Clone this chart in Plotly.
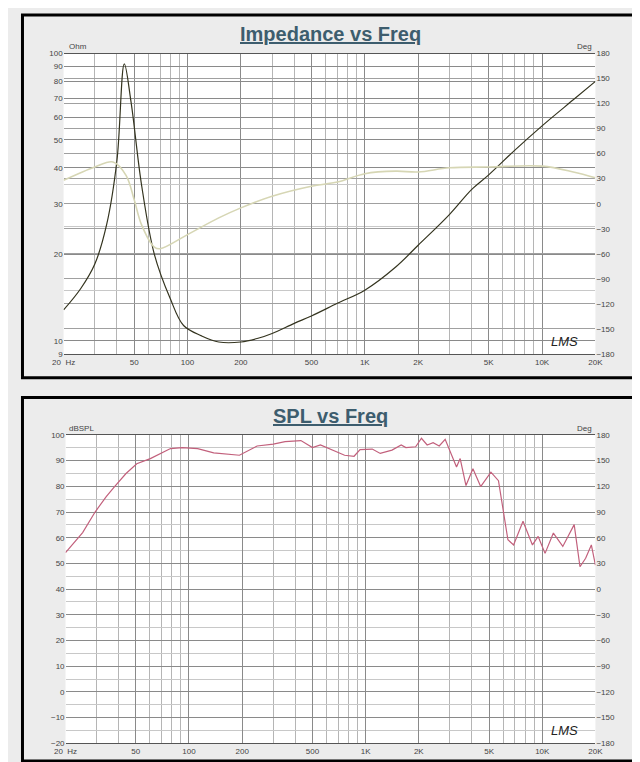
import plotly.graph_objects as go

# impedance (ohm) and phase (deg) vs frequency
imp_freq = [20, 25, 30, 35, 40, 44, 48, 55, 65, 80, 95, 120, 150, 200, 250, 300, 400, 500, 700,
            1000, 1500, 2000, 3000, 4000, 5000, 7000, 10000, 15000, 20000]
imp_ohm = [12.8, 15.2, 18.5, 25.4, 42.5, 92, 68, 35, 20, 14, 11.3, 10.4, 9.9, 9.9, 10.2, 10.6, 11.5,
           12.2, 13.5, 15, 18.1, 21.5, 27.5, 33.6, 37.8, 46, 56, 69, 80]
ph_freq = [20, 30, 38, 45, 50, 55, 65, 70, 100, 150, 200, 300, 500, 700, 1000, 1500, 2000, 3000,
           5000, 10000, 15000, 20000]
ph_deg = [28, 44, 50, 34, 5, -25, -52, -54, -37, -17, -5, 9, 21, 26, 36, 39, 38, 43, 44, 45, 38, 31]

# SPL vs frequency
spl_freq = [20, 25, 29.4, 34, 38, 44, 50.6, 60.4, 78.6, 91.5, 112, 138, 193, 243, 300, 350, 430, 500,
            555, 760, 860, 930, 1090, 1210, 1410, 1590, 1690, 1920, 2070, 2230, 2410, 2610, 2820,
            3030, 3270, 3430, 3700, 4050, 4480, 5120, 5650, 6390, 6880, 7780, 8800, 9480, 10370,
            11560, 13070, 15160, 16350, 17600, 18960, 20000]
spl_db = [54.2, 62, 70, 76, 80, 85, 88.8, 90.8, 94.7, 95.1, 94.7, 93, 92.1, 95.7, 96.4, 97.4, 97.8,
          95.1, 96.1, 92.1, 91.7, 94.3, 94.5, 92.8, 94.1, 96.1, 95.1, 95.4, 98.7, 96.1, 97, 95.7,
          98.3, 92.8, 87.5, 90.8, 80.3, 86.8, 79.9, 85.5, 82.2, 59.2, 57.2, 66.4, 57.2, 60.5, 53.9,
          61.8, 56.6, 65.1, 48.7, 52, 57.2, 49.3]

x_ticks = [20, 50, 100, 200, 500, 1000, 2000, 5000, 10000, 20000]
x_labels = ["20  Hz", "50", "100", "200", "500", "1K", "2K", "5K", "10K", "20K"]
x_minor = [m * d for d in (10, 100, 1000, 10000) for m in range(1, 10) if 20 <= m * d <= 20000]
ohm_ticks = [9, 10, 20, 30, 40, 50, 60, 70, 80, 90, 100]

H = 762
def py(px):
    return 1 - px / H

tick_font = dict(family="Arial", size=8, color="#444")
grid = "#8a8a8a"

fig = go.Figure()
fig.add_trace(go.Scatter(x=ph_freq, y=ph_deg, xaxis="x", yaxis="y2", mode="lines",
                         line=dict(color="#d6d6b4", width=1.6), line_shape="spline"))
fig.add_trace(go.Scatter(x=imp_freq, y=imp_ohm, xaxis="x", yaxis="y", mode="lines",
                         line=dict(color="#34341f", width=1.2), line_shape="spline"))
fig.add_trace(go.Scatter(x=spl_freq, y=spl_db, xaxis="x2", yaxis="y3", mode="lines",
                         line=dict(color="#c2607c", width=1.2)))

xcommon = dict(type="log", range=[1.30103, 4.30103], tickvals=x_ticks, ticktext=x_labels,
               showgrid=True, gridcolor=grid, gridwidth=1, tickfont=tick_font,
               minor=dict(tickvals=x_minor, showgrid=True, gridcolor="#b5b5b5", gridwidth=1),
               showline=True, linecolor="#555", mirror=True, ticks="", zeroline=False)

fig.update_layout(
    width=640, height=762, margin=dict(l=0, r=0, t=0, b=0),
    paper_bgcolor="#ececec", plot_bgcolor="white", showlegend=False,
    xaxis=dict(domain=[45 / 640, 594 / 640], anchor="y", **xcommon),
    yaxis=dict(domain=[py(346), py(42)], type="log", range=[0.95424, 2], tickvals=ohm_ticks,
               showgrid=True, gridcolor=grid, tickfont=tick_font, ticks="", zeroline=False,
               minor=dict(tickvals=[15, 25, 35, 45], showgrid=True, gridcolor="#c8c8c8")),
    yaxis2=dict(overlaying="y", side="right", anchor="x", range=[-180, 180], dtick=30,
                showgrid=True, gridcolor="#a0a0a0", tickfont=tick_font, ticks="", zeroline=False),
    xaxis2=dict(domain=[47 / 640, 594 / 640], anchor="y3", **xcommon),
    yaxis3=dict(domain=[py(740), py(428)], range=[-20, 100], dtick=10, anchor="x2",
                showgrid=True, gridcolor=grid, tickfont=tick_font, ticks="", zeroline=False,
                minor=dict(dtick=5, showgrid=True, gridcolor="#c8c8c8")),
    yaxis4=dict(overlaying="y3", side="right", anchor="x2", range=[-180, 180], dtick=30,
                showgrid=False, tickfont=tick_font, ticks="", zeroline=False),
)
# dummy trace so yaxis4 is drawn
fig.add_trace(go.Scatter(x=[None], y=[None], xaxis="x2", yaxis="y4"))

# panel frames
fig.add_shape(type="rect", xref="paper", yref="paper", x0=0.004, x1=0.992, y0=py(370), y1=py(3),
              line=dict(color="black", width=3), layer="below")
fig.add_shape(type="rect", xref="paper", yref="paper", x0=0.004, x1=0.992, y0=py(758), y1=py(390),
              line=dict(color="black", width=3), layer="below")

ann = [
    ("<b><u>Impedance vs Freq</u></b>", 320, 22, 20, "#3d5d6e", "center"),
    ("<b><u>SPL vs Freq</u></b>", 320, 409, 20, "#3d5d6e", "center"),
    ("Ohm", 48, 35, 8, "#444", "left"),
    ("Deg", 592, 35, 8, "#444", "right"),
    ("dBSPL", 48, 421, 8, "#444", "left"),
    ("Deg", 592, 421, 8, "#444", "right"),
    ("<i>LMS</i>", 578, 333, 13, "#222", "right"),
    ("<i>LMS</i>", 578, 727, 13, "#222", "right"),
]
for text, x, y, size, color, align in ann:
    fig.add_annotation(text=text, x=x / 640, y=py(y), xref="paper", yref="paper",
                       xanchor=align, yanchor="middle", showarrow=False,
                       font=dict(family="Arial", size=size, color=color))

fig.write_html("out.html")
